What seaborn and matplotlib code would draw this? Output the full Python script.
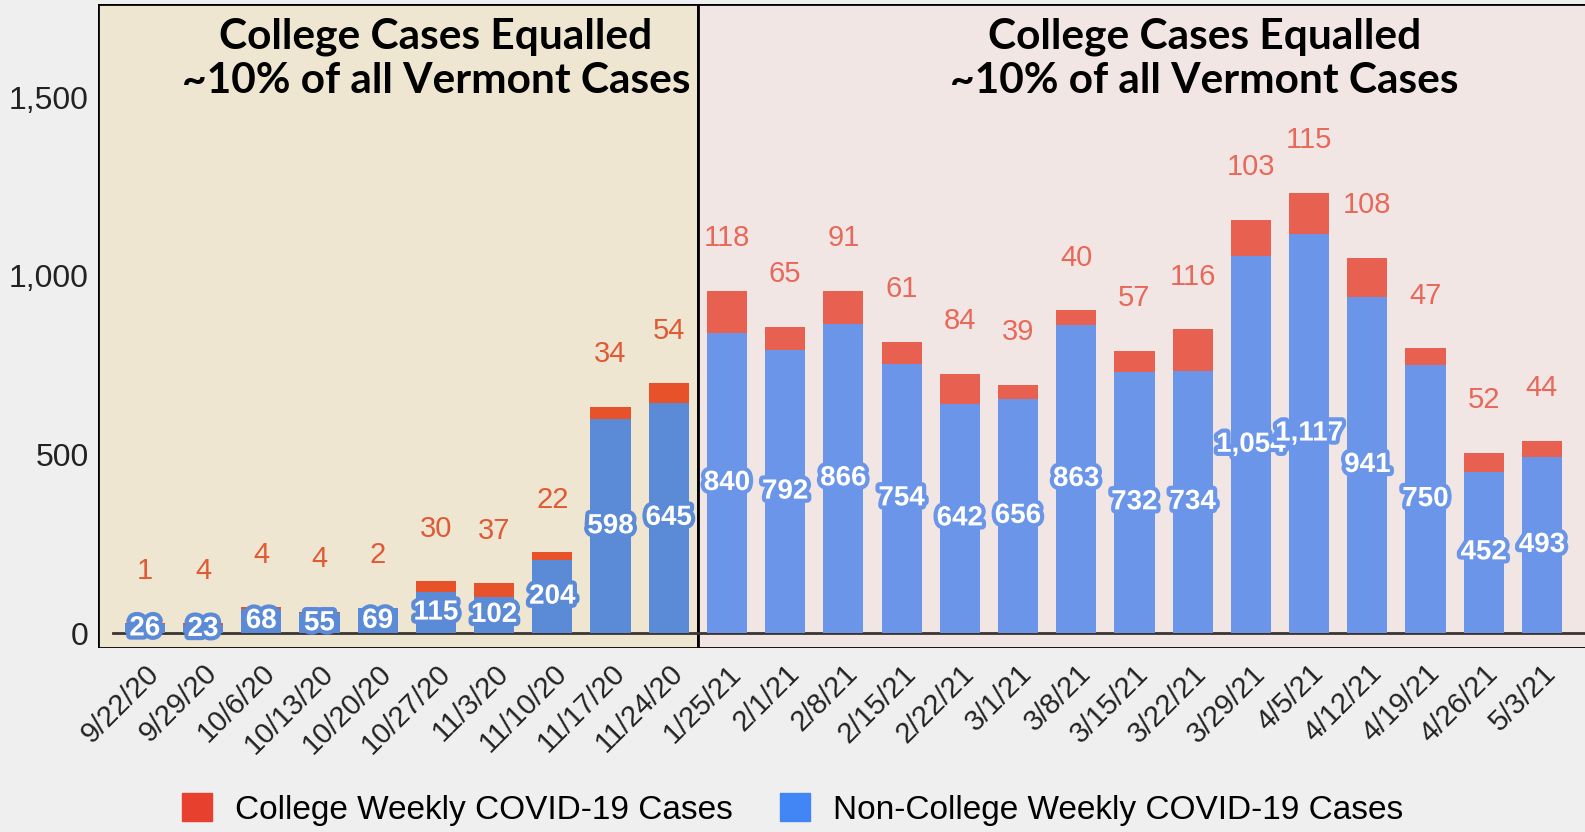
"""
Vermont college vs non-college weekly COVID-19 cases, stacked bars
"""

import matplotlib
matplotlib.use('Agg')
import matplotlib.pyplot as plt
import matplotlib.patheffects as pe
import matplotlib.transforms as mtrans
from matplotlib.patches import Patch, Rectangle
import pandas as pd
import seaborn as sns

weeks = ['9/22/20', '9/29/20', '10/6/20', '10/13/20', '10/20/20', '10/27/20',
         '11/3/20', '11/10/20', '11/17/20', '11/24/20', '1/25/21', '2/1/21',
         '2/8/21', '2/15/21', '2/22/21', '3/1/21', '3/8/21', '3/15/21',
         '3/22/21', '3/29/21', '4/5/21', '4/12/21', '4/19/21', '4/26/21', '5/3/21']
non_college = [26, 23, 68, 55, 69, 115, 102, 204, 598, 645, 840, 792, 866, 754,
               642, 656, 863, 732, 734, 1054, 1117, 941, 750, 452, 493]
college = [1, 4, 4, 4, 2, 30, 37, 22, 34, 54, 118, 65, 91, 61, 84, 39, 40, 57,
           116, 103, 115, 108, 47, 52, 44]
period = ['fall'] * 10 + ['spring'] * 15
panel_title = 'College Cases Equalled\n~10% of all Vermont Cases'

bg_col = {'fall': '#efe6d1', 'spring': '#f1e6e4'}
blue_col = {'fall': '#5b8ad6', 'spring': '#6a95e8'}
red_col = {'fall': '#e8522a', 'spring': '#e8604f'}
red_txt = {'fall': '#e05a35', 'spring': '#e8685a'}

df = pd.DataFrame({'week': weeks, 'non_college': non_college,
                   'college': college, 'period': period})
df['total'] = df['non_college'] + df['college']

fig = plt.figure(figsize=(15.85, 8.32), dpi=100, facecolor='#efefef')
ax = fig.add_axes([0.062, 0.221, 0.938, 0.774])
ax.set_facecolor('none')

# panel backgrounds
ax.add_patch(Rectangle((-0.8, -42), 10.3, 1802, facecolor=bg_col['fall'],
                       edgecolor='black', lw=2, zorder=0))
ax.add_patch(Rectangle((9.5, -42), 15.5, 1802, facecolor=bg_col['spring'],
                       edgecolor='black', lw=2, zorder=0))
ax.axhline(0, xmin=0.01, xmax=1, color='#3a3530', lw=2, zorder=1)

sns.barplot(data=df, x='week', y='total', hue='period', palette=red_col,
            dodge=False, width=0.69, order=weeks, ax=ax, legend=False,
            saturation=1, zorder=2)
sns.barplot(data=df, x='week', y='non_college', hue='period', palette=blue_col,
            dodge=False, width=0.69, order=weeks, ax=ax, legend=False,
            saturation=1, zorder=3)

for i, row in df.iterrows():
    ax.annotate(str(row['college']), (i, row['total']), xytext=(0, 38),
                textcoords='offset points', ha='center', va='center',
                fontsize=21, color=red_txt[row['period']], family='Liberation Sans')
    ax.text(i, row['non_college'] / 2, f"{row['non_college']:,}", ha='center',
            va='center', fontsize=20, fontweight='bold', color='white',
            family='Liberation Sans', zorder=5,
            path_effects=[pe.withStroke(linewidth=6, foreground=blue_col[row['period']])])

ax.text(5.0, 1607, panel_title, ha='center', va='center', fontsize=30.5,
        fontweight='bold', family='Lato', linespacing=1.2)
ax.text(18.2, 1607, panel_title, ha='center', va='center', fontsize=30.5,
        fontweight='bold', family='Lato', linespacing=1.2)

ax.set_xlim(-0.8, 24.74)
ax.set_ylim(-42, 1760)
ax.set_yticks([0, 500, 1000, 1500])
ax.set_yticklabels(['0', '500', '1,000', '1,500'], fontsize=23,
                   family='Liberation Sans', color='#222222')
ax.set_xticks(range(len(weeks)))
ax.set_xticklabels(weeks, rotation=45, ha='right', va='top', rotation_mode='anchor',
                   fontsize=21, family='Liberation Sans', color='#222222')
shift = mtrans.ScaledTranslation(0.17, 0, fig.dpi_scale_trans)
for lab in ax.get_xticklabels():
    lab.set_transform(lab.get_transform() + shift)
ax.tick_params(length=0, axis='y', pad=7)
ax.tick_params(length=0, axis='x', pad=8)
ax.set_xlabel('')
ax.set_ylabel('')
for s in ax.spines.values():
    s.set_visible(False)

handles = [Patch(color='#e8402f', label='College Weekly COVID-19 Cases'),
           Patch(color='#4285f4', label='Non-College Weekly COVID-19 Cases')]
fig.legend(handles=handles, loc='center', bbox_to_anchor=(0.5, 0.027), ncol=2,
           frameon=False, handlelength=0.9, handleheight=0.9,
           columnspacing=1.4, handletextpad=0.7,
           prop={'family': 'Liberation Sans', 'size': 24})

fig.savefig('out.png', dpi=100, facecolor=fig.get_facecolor())
